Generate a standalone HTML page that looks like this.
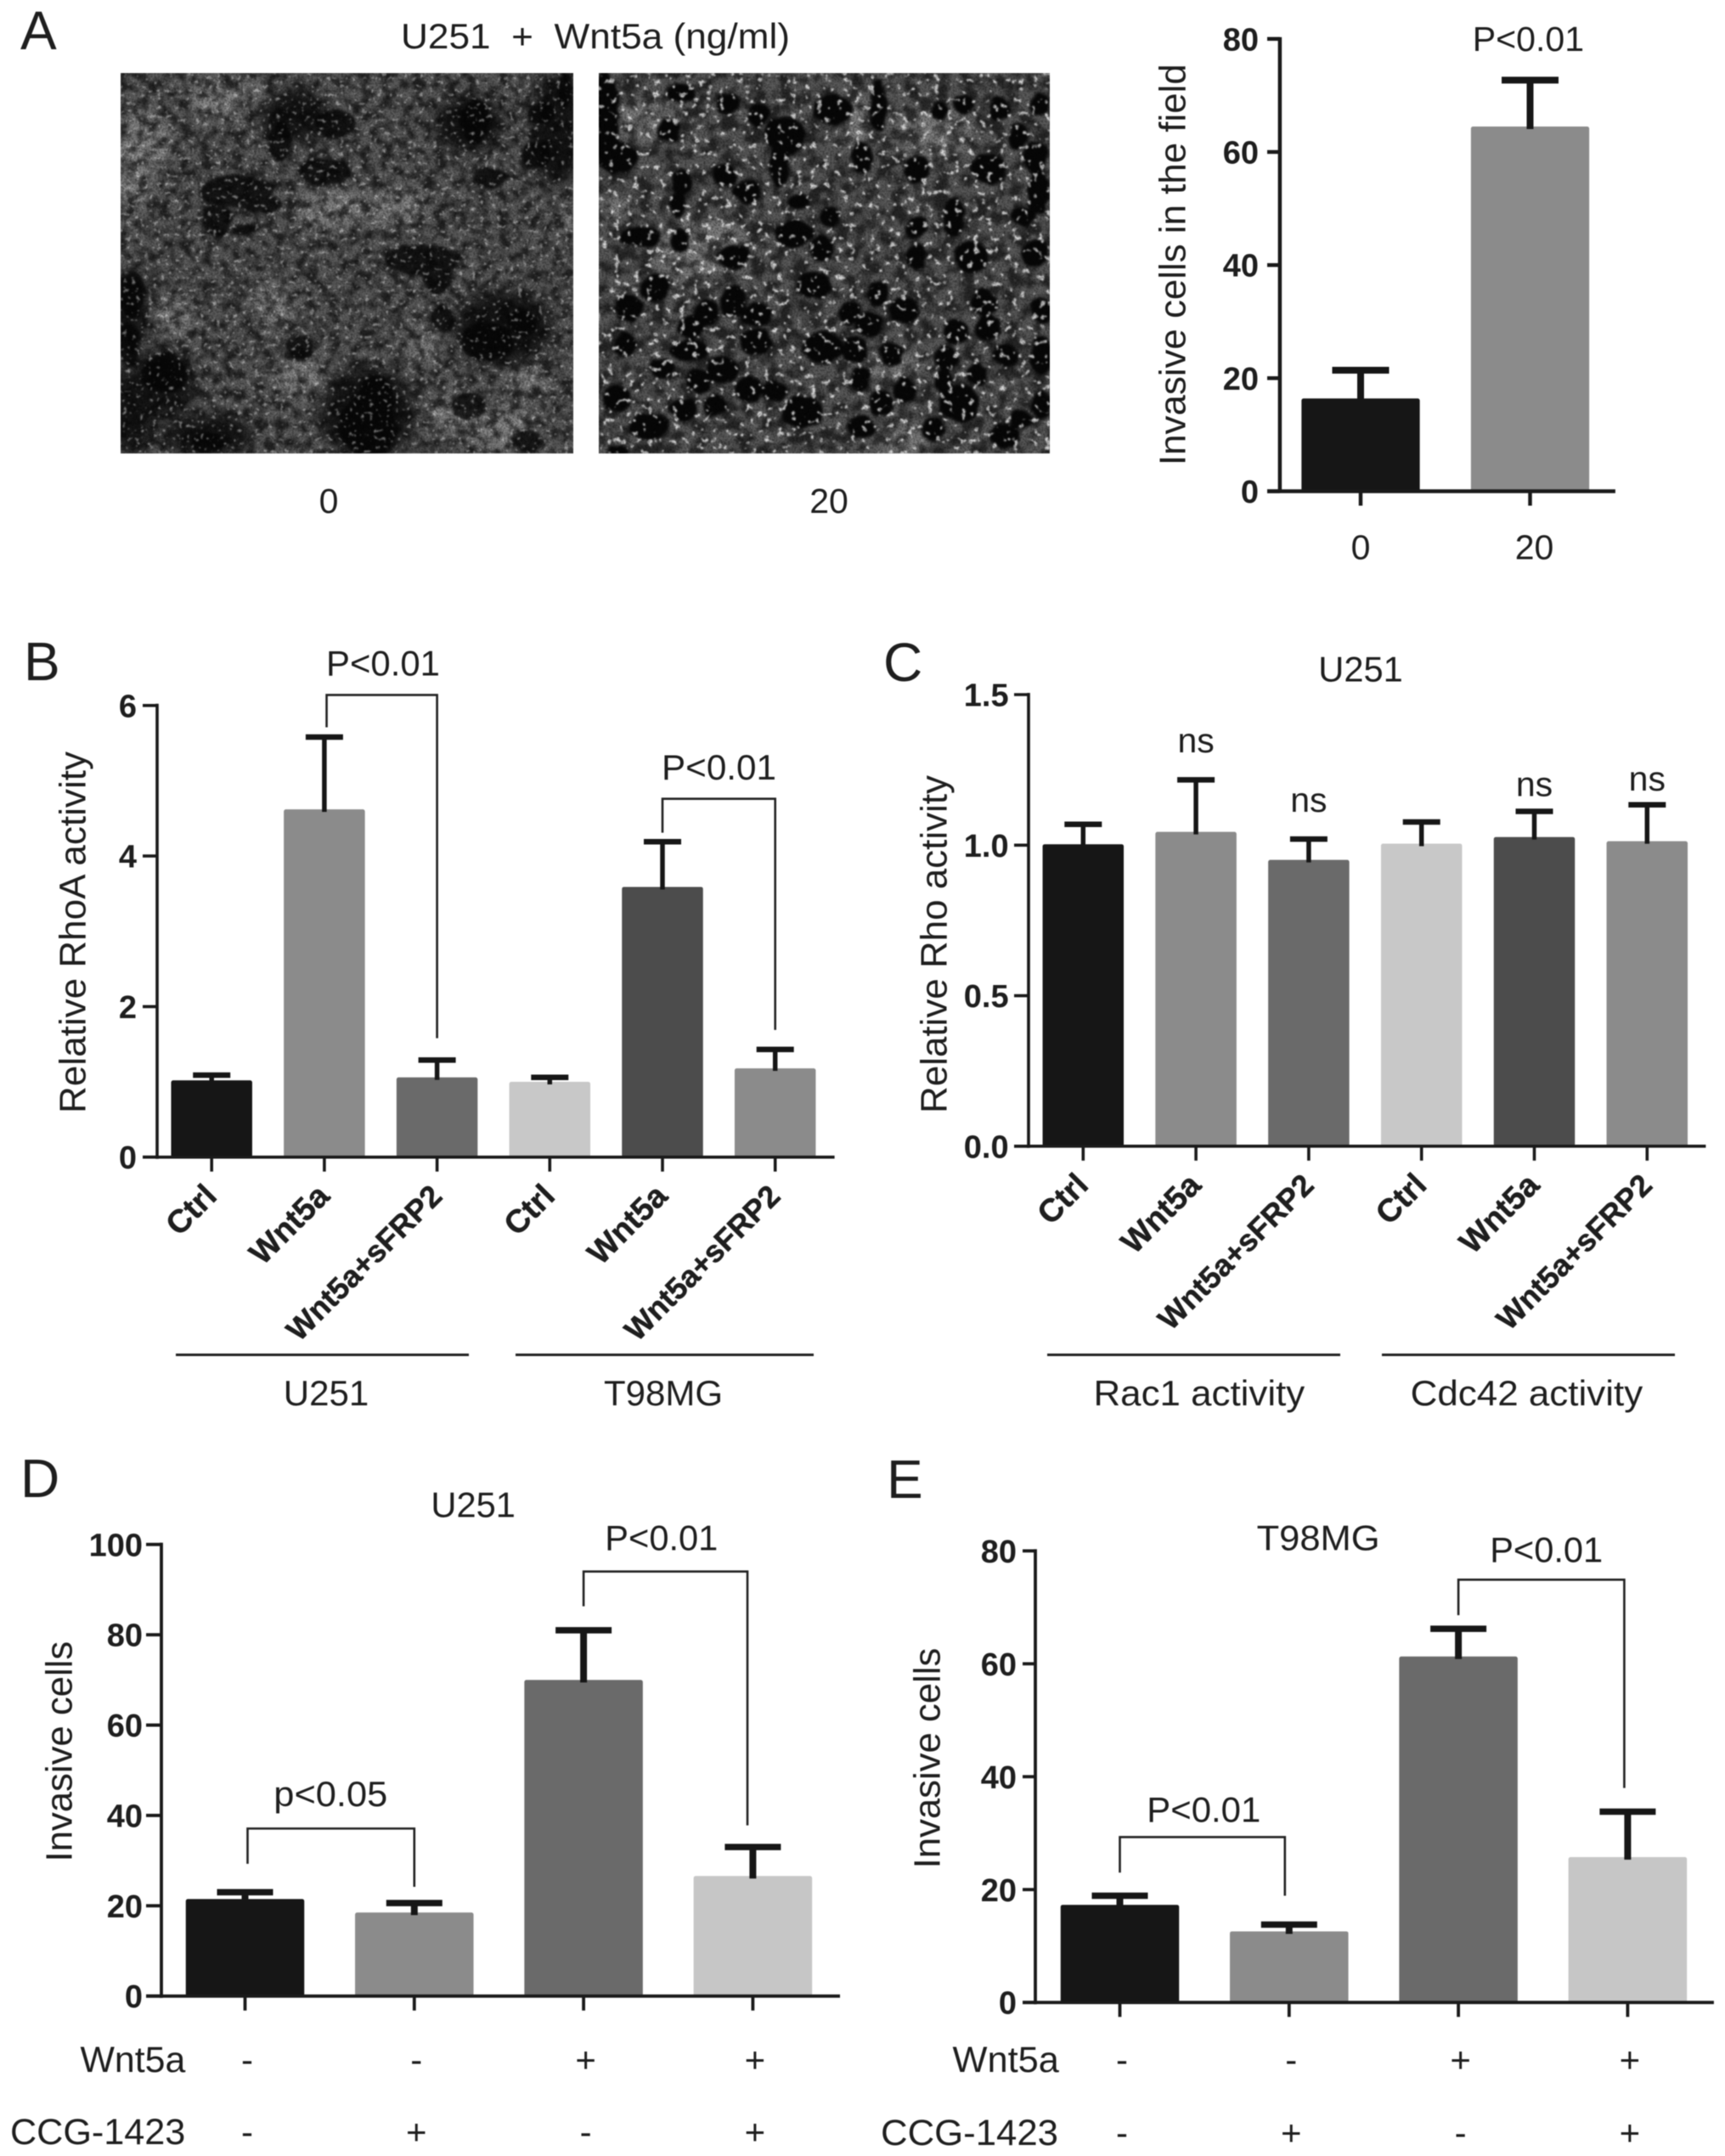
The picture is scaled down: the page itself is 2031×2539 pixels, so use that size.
<!DOCTYPE html>
<html lang="en">
<head>
<meta charset="utf-8">
<title>Wnt5a invasion and Rho activity figure</title>
<style>
html,body{margin:0;padding:0;background:#fff}
svg{display:block;filter:blur(.55px)}
text{font-family:"Liberation Sans",Arial,sans-serif;fill:#1e1e1e}
.tick{font-weight:bold;font-size:38px;text-anchor:end}
.letter{font-size:64px}
.ytitle{font-size:44px}
.cat{font-weight:bold;font-size:36px;text-anchor:end;stroke:#1e1e1e;stroke-width:.5px}
</style>
</head>
<body>
<svg id="fig" xmlns="http://www.w3.org/2000/svg" width="2031" height="2539" viewBox="0 0 2031 2539">
<defs>
<filter id="darkNoiseL" x="0" y="0" width="1" height="1" color-interpolation-filters="sRGB">
  <feTurbulence type="fractalNoise" baseFrequency="0.08 0.085" numOctaves="3" seed="7"/>
  <feColorMatrix values="0 0 0 0 0.03  0 0 0 0 0.03  0 0 0 0 0.03  3.2 0 0 0 -1.25"/>
  <feGaussianBlur stdDeviation="1"/>
</filter>
<filter id="darkNoiseR" x="0" y="0" width="1" height="1" color-interpolation-filters="sRGB">
  <feTurbulence type="fractalNoise" baseFrequency="0.06 0.065" numOctaves="3" seed="19"/>
  <feColorMatrix values="0 0 0 0 0.02  0 0 0 0 0.02  0 0 0 0 0.02  4 0 0 0 -1.6"/>
  <feGaussianBlur stdDeviation="1"/>
</filter>
<filter id="brightSpecks" x="0" y="0" width="1" height="1" color-interpolation-filters="sRGB">
  <feTurbulence type="fractalNoise" baseFrequency="0.2" numOctaves="2" seed="11"/>
  <feColorMatrix values="0 0 0 0 1  0 0 0 0 1  0 0 0 0 1  14 0 0 0 -9"/>
  <feGaussianBlur stdDeviation=".7"/>
</filter>
<filter id="brightSpecksR" x="0" y="0" width="1" height="1" color-interpolation-filters="sRGB">
  <feTurbulence type="fractalNoise" baseFrequency="0.13" numOctaves="2" seed="23"/>
  <feColorMatrix values="0 0 0 0 1  0 0 0 0 1  0 0 0 0 1  12 0 0 0 -7.6"/>
  <feGaussianBlur stdDeviation=".9"/>
</filter>
<filter id="grain" x="0" y="0" width="1" height="1" color-interpolation-filters="sRGB">
  <feTurbulence type="fractalNoise" baseFrequency="0.45" numOctaves="2" seed="3"/>
  <feColorMatrix values="0 0 0 0 0  0 0 0 0 0  0 0 0 0 0  3.4 0 0 0 -1.4"/>
</filter>
<filter id="soft" x="-20%" y="-20%" width="140%" height="140%"><feGaussianBlur stdDeviation="24"/></filter>
<filter id="cellEdge" x="-5%" y="-5%" width="110%" height="110%" color-interpolation-filters="sRGB">
  <feTurbulence type="fractalNoise" baseFrequency="0.02" numOctaves="2" seed="5" result="t"/>
  <feDisplacementMap in="SourceGraphic" in2="t" scale="26" xChannelSelector="R" yChannelSelector="G"/>
  <feGaussianBlur stdDeviation="5"/>
</filter>
<clipPath id="clipL"><rect x="142" y="86" width="533" height="448"/></clipPath>
<clipPath id="clipR"><rect x="705" y="86" width="531" height="448"/></clipPath>
</defs>

<!-- Panel A micrographs -->
<g clip-path="url(#clipL)">
  <rect x="142" y="86" width="533" height="448" fill="#5a5a5a"/>
  <g transform="translate(142,86) scale(.3418,.333)">
    <g filter="url(#soft)" fill="#868686">
      <ellipse cx="80" cy="250" rx="90" ry="110"/><ellipse cx="40" cy="420" rx="60" ry="70"/><ellipse cx="330" cy="100" rx="100" ry="60"/><ellipse cx="450" cy="90" rx="60" ry="50"/><ellipse cx="730" cy="480" rx="120" ry="70"/><ellipse cx="950" cy="480" rx="100" ry="70"/><ellipse cx="1300" cy="1250" rx="120" ry="80"/><ellipse cx="1150" cy="1200" rx="80" ry="60"/><ellipse cx="620" cy="1080" rx="90" ry="60"/><ellipse cx="530" cy="820" rx="70" ry="70"/><ellipse cx="200" cy="860" rx="70" ry="60"/><ellipse cx="1400" cy="1080" rx="70" ry="40"/><ellipse cx="1050" cy="960" rx="60" ry="50"/><ellipse cx="1540" cy="520" rx="25" ry="50"/>
    </g>
    <g filter="url(#soft)" fill="#161616">
      <ellipse cx="40" cy="1200" rx="80" ry="150"/><ellipse cx="1500" cy="200" rx="90" ry="200"/><ellipse cx="1200" cy="180" rx="120" ry="100"/><ellipse cx="1320" cy="900" rx="170" ry="130"/><ellipse cx="850" cy="1200" rx="160" ry="160"/><ellipse cx="150" cy="1100" rx="110" ry="120"/><ellipse cx="30" cy="850" rx="60" ry="150"/><ellipse cx="600" cy="150" rx="120" ry="90"/><ellipse cx="300" cy="1280" rx="160" ry="70"/>
    </g>
  </g>
  <rect x="142" y="86" width="533" height="448" filter="url(#darkNoiseL)" opacity=".7"/>
  <g transform="translate(142,86) scale(.3418,.333)" filter="url(#cellEdge)" fill="#060606" opacity=".8">
    <ellipse cx="400" cy="420" rx="130" ry="60"/><ellipse cx="480" cy="460" rx="70" ry="35"/><ellipse cx="330" cy="520" rx="50" ry="60"/><ellipse cx="430" cy="555" rx="50" ry="20"/><ellipse cx="1040" cy="660" rx="130" ry="55"/><ellipse cx="1090" cy="720" rx="50" ry="60"/><ellipse cx="850" cy="1250" rx="100" ry="110"/><ellipse cx="880" cy="1150" rx="60" ry="80"/><ellipse cx="30" cy="960" rx="35" ry="80"/><ellipse cx="40" cy="780" rx="45" ry="80"/><ellipse cx="150" cy="1060" rx="80" ry="70"/><ellipse cx="1260" cy="950" rx="90" ry="70"/><ellipse cx="1380" cy="880" rx="50" ry="50"/><ellipse cx="1220" cy="170" rx="50" ry="80"/><ellipse cx="1450" cy="140" rx="50" ry="40"/><ellipse cx="1530" cy="60" rx="25" ry="60"/><ellipse cx="740" cy="180" rx="70" ry="50"/><ellipse cx="300" cy="1310" rx="60" ry="35"/><ellipse cx="1200" cy="1180" rx="60" ry="50"/><ellipse cx="1110" cy="870" rx="40" ry="50"/><ellipse cx="700" cy="350" rx="90" ry="50"/><ellipse cx="1430" cy="290" rx="50" ry="50"/><ellipse cx="550" cy="240" rx="40" ry="70"/><ellipse cx="1400" cy="1300" rx="50" ry="40"/><ellipse cx="620" cy="970" rx="45" ry="45"/><ellipse cx="1270" cy="370" rx="60" ry="40"/>
  </g>
  <rect x="142" y="86" width="533" height="448" filter="url(#brightSpecks)" opacity=".45"/>
  <rect x="142" y="86" width="533" height="448" filter="url(#grain)" opacity=".3"/>
</g>

<g clip-path="url(#clipR)">
  <rect x="705" y="86" width="531" height="448" fill="#585858"/>
  <g transform="translate(706,86) scale(.3418,.333)">
    <g filter="url(#soft)" fill="#7e7e7e">
      <ellipse cx="340" cy="620" rx="180" ry="110"/><ellipse cx="150" cy="170" rx="100" ry="70"/><ellipse cx="880" cy="170" rx="70" ry="90"/><ellipse cx="1150" cy="210" rx="130" ry="90"/><ellipse cx="1050" cy="1300" rx="90" ry="50"/><ellipse cx="60" cy="480" rx="60" ry="50"/><ellipse cx="1020" cy="1050" rx="130" ry="50"/>
    </g>
  </g>
  <rect x="705" y="86" width="531" height="448" filter="url(#darkNoiseR)" opacity=".6"/>
  <g transform="translate(706,86) scale(.3418,.333)" filter="url(#cellEdge)" fill="#070707" stroke="#070707" stroke-width="16">
      <ellipse cx="20" cy="150" rx="40" ry="150"/><ellipse cx="60" cy="300" rx="60" ry="50"/><ellipse cx="240" cy="200" rx="35" ry="35"/><ellipse cx="280" cy="70" rx="45" ry="25"/><ellipse cx="440" cy="110" rx="30" ry="30"/><ellipse cx="550" cy="150" rx="30" ry="35"/><ellipse cx="640" cy="220" rx="60" ry="60"/><ellipse cx="620" cy="320" rx="25" ry="80"/><ellipse cx="800" cy="130" rx="60" ry="45"/><ellipse cx="960" cy="110" rx="20" ry="90"/><ellipse cx="905" cy="300" rx="30" ry="50"/><ellipse cx="1090" cy="340" rx="35" ry="40"/><ellipse cx="1170" cy="135" rx="20" ry="25"/><ellipse cx="1250" cy="110" rx="30" ry="30"/><ellipse cx="1375" cy="130" rx="30" ry="35"/><ellipse cx="1515" cy="110" rx="25" ry="35"/><ellipse cx="1500" cy="300" rx="35" ry="50"/><ellipse cx="1440" cy="220" rx="25" ry="40"/><ellipse cx="1340" cy="340" rx="50" ry="50"/><ellipse cx="285" cy="385" rx="30" ry="35"/><ellipse cx="430" cy="360" rx="35" ry="35"/><ellipse cx="510" cy="420" rx="40" ry="35"/><ellipse cx="270" cy="465" rx="20" ry="35"/><ellipse cx="140" cy="580" rx="65" ry="30"/><ellipse cx="275" cy="590" rx="25" ry="30"/><ellipse cx="685" cy="455" rx="30" ry="25"/><ellipse cx="795" cy="510" rx="30" ry="30"/><ellipse cx="670" cy="570" rx="60" ry="40"/><ellipse cx="765" cy="620" rx="30" ry="40"/><ellipse cx="1090" cy="545" rx="30" ry="30"/><ellipse cx="1220" cy="510" rx="30" ry="60"/><ellipse cx="1090" cy="650" rx="30" ry="40"/><ellipse cx="1460" cy="505" rx="35" ry="25"/><ellipse cx="1500" cy="640" rx="40" ry="40"/><ellipse cx="460" cy="650" rx="50" ry="35"/><ellipse cx="190" cy="760" rx="40" ry="45"/><ellipse cx="100" cy="830" rx="40" ry="40"/><ellipse cx="460" cy="810" rx="35" ry="50"/><ellipse cx="370" cy="850" rx="35" ry="40"/><ellipse cx="315" cy="900" rx="35" ry="35"/><ellipse cx="540" cy="855" rx="45" ry="35"/><ellipse cx="740" cy="750" rx="50" ry="40"/><ellipse cx="960" cy="780" rx="30" ry="40"/><ellipse cx="1050" cy="840" rx="45" ry="40"/><ellipse cx="930" cy="890" rx="40" ry="35"/><ellipse cx="860" cy="850" rx="30" ry="35"/><ellipse cx="1325" cy="810" rx="35" ry="40"/><ellipse cx="1520" cy="840" rx="30" ry="40"/><ellipse cx="1225" cy="915" rx="35" ry="40"/><ellipse cx="1340" cy="900" rx="40" ry="40"/><ellipse cx="880" cy="980" rx="40" ry="40"/><ellipse cx="770" cy="970" rx="60" ry="50"/><ellipse cx="1195" cy="1010" rx="35" ry="35"/><ellipse cx="1005" cy="995" rx="30" ry="35"/><ellipse cx="90" cy="960" rx="30" ry="35"/><ellipse cx="310" cy="980" rx="60" ry="30"/><ellipse cx="215" cy="1045" rx="35" ry="30"/><ellipse cx="540" cy="950" rx="50" ry="40"/><ellipse cx="340" cy="1090" rx="35" ry="35"/><ellipse cx="1300" cy="1065" rx="30" ry="35"/><ellipse cx="60" cy="1150" rx="40" ry="40"/><ellipse cx="600" cy="1125" rx="35" ry="30"/><ellipse cx="515" cy="1120" rx="40" ry="40"/><ellipse cx="395" cy="1175" rx="30" ry="30"/><ellipse cx="900" cy="1085" rx="25" ry="40"/><ellipse cx="1185" cy="1090" rx="25" ry="40"/><ellipse cx="1240" cy="1170" rx="60" ry="60"/><ellipse cx="970" cy="1170" rx="35" ry="40"/><ellipse cx="1050" cy="1120" rx="30" ry="40"/><ellipse cx="1395" cy="1285" rx="45" ry="35"/><ellipse cx="1520" cy="1170" rx="25" ry="45"/><ellipse cx="1450" cy="1225" rx="30" ry="25"/><ellipse cx="1150" cy="1260" rx="30" ry="35"/><ellipse cx="900" cy="1250" rx="40" ry="30"/><ellipse cx="290" cy="1190" rx="40" ry="30"/><ellipse cx="60" cy="1340" rx="30" ry="15"/>
      <ellipse cx="1510" cy="420" rx="30" ry="70"/><ellipse cx="1520" cy="1000" rx="30" ry="60"/><ellipse cx="1280" cy="650" rx="50" ry="50"/><ellipse cx="170" cy="1250" rx="60" ry="40"/><ellipse cx="700" cy="1200" rx="60" ry="50"/><ellipse cx="1400" cy="1000" rx="40" ry="30"/><ellipse cx="420" cy="1050" rx="50" ry="40"/>
  </g>
  <rect x="705" y="86" width="531" height="448" filter="url(#brightSpecksR)" opacity=".75"/>
  <rect x="705" y="86" width="531" height="448" filter="url(#grain)" opacity=".3"/>
</g>

<!-- Static text -->
<text class="letter" x="24" y="58">A</text>
<text class="letter" x="28" y="801">B</text>
<text class="letter" x="1040" y="802">C</text>
<text class="letter" x="24" y="1763">D</text>
<text class="letter" x="1044" y="1764">E</text>

<text x="472" y="57" font-size="42" textLength="458" lengthAdjust="spacingAndGlyphs" xml:space="preserve">U251  +  Wnt5a (ng/ml)</text>
<text x="387" y="604" font-size="41" text-anchor="middle">0</text>
<text x="976" y="604" font-size="41" text-anchor="middle">20</text>

<text class="ytitle" transform="translate(1395.5,548) rotate(-90)" textLength="472.7" lengthAdjust="spacingAndGlyphs">Invasive cells in the field</text>
<text class="ytitle" transform="translate(100.5,1311) rotate(-90)" textLength="426" lengthAdjust="spacingAndGlyphs">Relative RhoA activity</text>
<text class="ytitle" transform="translate(1114.5,1311) rotate(-90)" textLength="398" lengthAdjust="spacingAndGlyphs">Relative Rho activity</text>
<text class="ytitle" transform="translate(84.6,2192.5) rotate(-90)" textLength="259.7" lengthAdjust="spacingAndGlyphs">Invasive cells</text>
<text class="ytitle" transform="translate(1106.6,2200.4) rotate(-90)" textLength="259.7" lengthAdjust="spacingAndGlyphs">Invasive cells</text>

<text x="1733.8" y="60" font-size="41" textLength="131.3" lengthAdjust="spacingAndGlyphs">P&lt;0.01</text>
<text x="384" y="795.3" font-size="42" textLength="134" lengthAdjust="spacingAndGlyphs">P&lt;0.01</text>
<text x="779" y="918" font-size="42" textLength="135" lengthAdjust="spacingAndGlyphs">P&lt;0.01</text>
<text x="1552.3" y="802.6" font-size="42" textLength="99.5" lengthAdjust="spacingAndGlyphs">U251</text>
<text x="322.3" y="2127" font-size="42" textLength="134" lengthAdjust="spacingAndGlyphs">p&lt;0.05</text>
<text x="712.3" y="1825.7" font-size="42" textLength="133" lengthAdjust="spacingAndGlyphs">P&lt;0.01</text>
<text x="507.4" y="1786.6" font-size="42" textLength="99.5" lengthAdjust="spacingAndGlyphs">U251</text>
<text x="1350.3" y="2145.4" font-size="42" textLength="134" lengthAdjust="spacingAndGlyphs">P&lt;0.01</text>
<text x="1754.2" y="1839.3" font-size="42" textLength="133" lengthAdjust="spacingAndGlyphs">P&lt;0.01</text>
<text x="1479.6" y="1825.4" font-size="42" textLength="145" lengthAdjust="spacingAndGlyphs">T98MG</text>

<line x1="207" y1="1595.5" x2="552" y2="1595.5" stroke="#222" stroke-width="3"/>
<line x1="607" y1="1595.5" x2="958" y2="1595.5" stroke="#222" stroke-width="3"/>
<line x1="1233" y1="1595.5" x2="1578" y2="1595.5" stroke="#222" stroke-width="3"/>
<line x1="1627" y1="1595.5" x2="1972" y2="1595.5" stroke="#222" stroke-width="3"/>
<text x="384" y="1655" font-size="42" text-anchor="middle">U251</text>
<text x="781" y="1655" font-size="42" text-anchor="middle">T98MG</text>
<text x="1287.5" y="1655" font-size="42" textLength="248.7" lengthAdjust="spacingAndGlyphs">Rac1 activity</text>
<text x="1660.6" y="1655" font-size="42" textLength="273.6" lengthAdjust="spacingAndGlyphs">Cdc42 activity</text>

<text x="94.5" y="2440" font-size="43" textLength="123.8" lengthAdjust="spacingAndGlyphs">Wnt5a</text>
<text x="12" y="2525" font-size="43" textLength="206.3" lengthAdjust="spacingAndGlyphs">CCG-1423</text>
<text x="1121.5" y="2440" font-size="43" textLength="125.4" lengthAdjust="spacingAndGlyphs">Wnt5a</text>
<text x="1037" y="2526" font-size="43" textLength="209" lengthAdjust="spacingAndGlyphs">CCG-1423</text>

<g id="charts"></g>
</svg>

<script>
/* ---------- Panel A ---------- */
const panelACategories = ['0', '20'];
const panelAValues = [16.4, 64.5];
const panelAErrors = [21.4, 72.7];
const panelATicks = [0, 20, 40, 60, 80];
const panelATickLabels = ['0', '20', '40', '60', '80'];

/* ---------- Panel B ---------- */
const panelBCategories = ['Ctrl', 'Wnt5a', 'Wnt5a+sFRP2', 'Ctrl', 'Wnt5a', 'Wnt5a+sFRP2'];
const panelBValues = [1.02, 4.62, 1.06, 1.0, 3.59, 1.18];
const panelBErrors = [1.09, 5.58, 1.29, 1.06, 4.19, 1.43];
const panelBTicks = [0, 2, 4, 6];
const panelBTickLabels = ['0', '2', '4', '6'];
const panelBBracketFrom = [1.02, 4];
const panelBBracketTo = [2, 5];
const panelBBracketTop = [6.14, 4.76];
const panelBBracketLeftEnd = [5.71, 4.31];
const panelBBracketRightEnd = [1.58, 1.69];

/* ---------- Panel C ---------- */
const panelCCategories = ['Ctrl', 'Wnt5a', 'Wnt5a+sFRP2', 'Ctrl', 'Wnt5a', 'Wnt5a+sFRP2'];
const panelCValues = [1.003, 1.044, 0.951, 1.005, 1.027, 1.013];
const panelCErrors = [1.069, 1.217, 1.02, 1.077, 1.112, 1.134];
const panelCTicks = [0, 0.5, 1, 1.5];
const panelCTickLabels = ['0.0', '0.5', '1.0', '1.5'];
const panelCNsIndex = [1, 2, 4, 5];
const panelCNsLevel = [1.308, 1.111, 1.163, 1.181];

/* ---------- Panel D ---------- */
const panelDValues = [21.5, 18.5, 70, 26.6];
const panelDErrors = [23, 20.6, 81, 33];
const panelDTicks = [0, 20, 40, 60, 80, 100];
const panelDTickLabels = ['0', '20', '40', '60', '80', '100'];
const panelDWnt5a = ['-', '-', '+', '+'];
const panelDCcg = ['-', '+', '-', '+'];
const panelDBracketFrom = [0.015, 2];
const panelDBracketTo = [1, 2.968];
const panelDBracketTop = [37.1, 94];
const panelDBracketLeftEnd = [29.3, 86.3];
const panelDBracketRightEnd = [24.2, 37.8];

/* ---------- Panel E ---------- */
const panelEValues = [17.3, 12.6, 61.3, 25.75];
const panelEErrors = [18.9, 13.8, 66.2, 33.8];
const panelETicks = [0, 20, 40, 60, 80];
const panelETickLabels = ['0', '20', '40', '60', '80'];
const panelEWnt5a = ['-', '-', '+', '+'];
const panelECcg = ['-', '+', '-', '+'];
const panelEBracketFrom = [0, 2];
const panelEBracketTo = [0.975, 2.98];
const panelEBracketTop = [29.3, 74.9];
const panelEBracketLeftEnd = [23, 68.6];
const panelEBracketRightEnd = [18.9, 38];

const SVGNS = 'http://www.w3.org/2000/svg';
const root = document.getElementById('charts');

function mk(parent, tag, attrs, content) {
  const node = document.createElementNS(SVGNS, tag);
  for (const key in attrs) node.setAttribute(key, attrs[key]);
  if (content !== undefined) node.textContent = content;
  parent.appendChild(node);
  return node;
}

function makeXScale(g) {
  return function (i) { return g.xFirst + i * g.xStep; };
}
function makeYScale(g) {
  return function (v) { return g.yZero - (v / g.yMax) * (g.yZero - g.yTop); };
}

function drawBars(parent, g, values, errors, colors) {
  const x = makeXScale(g);
  const y = makeYScale(g);
  values.forEach(function (v, i) {
    const bar = mk(parent, 'rect', {
      x: x(i) - g.barWidth / 2, y: y(v), width: g.barWidth,
      height: g.yZero - y(v), rx: 2.5, fill: colors[i]
    });
    
    
  });
  errors.forEach(function (e, i) {
    const stem = mk(parent, 'line', {
      x1: x(i), x2: x(i), y1: y(e), y2: y(values[i]) + 3,
      stroke: '#161616', 'stroke-width': g.stem
    });
    
    
    const cap = mk(parent, 'line', {
      x1: x(i) - g.capWidth / 2, x2: x(i) + g.capWidth / 2, y1: y(e), y2: y(e),
      stroke: '#161616', 'stroke-width': g.capThick
    });
    
    
  });
}

function drawAxes(parent, g, count, ticks, tickLabels) {
  const x = makeXScale(g);
  const y = makeYScale(g);
  const yAxis = mk(parent, 'line', {
    x1: g.axisX, x2: g.axisX, y1: g.yTop - 2, y2: g.yZero + 2,
    stroke: '#1a1a1a', 'stroke-width': g.axisWidth
  });
  
  
  const xAxis = mk(parent, 'line', {
    x1: g.tickLeft, x2: g.axisEnd, y1: g.yZero, y2: g.yZero,
    stroke: '#1a1a1a', 'stroke-width': g.axisWidth
  });
  
  
  ticks.forEach(function (t, i) {
    const mark = mk(parent, 'line', {
      x1: g.tickLeft, x2: g.axisX, y1: y(t), y2: y(t),
      stroke: '#1a1a1a', 'stroke-width': g.axisWidth
    });
    
    
    const label = mk(parent, 'text', { x: g.tickLabelX, y: y(t) + 13.5, class: 'tick' }, tickLabels[i]);
    
    
  });
  for (let i = 0; i < count; i++) {
    const mark = mk(parent, 'line', {
      x1: x(i), x2: x(i), y1: g.yZero, y2: g.yZero + 17,
      stroke: '#1a1a1a', 'stroke-width': g.axisWidth
    });
    
    
  }
}

function drawRotatedLabels(parent, g, categories) {
  const x = makeXScale(g);
  categories.forEach(function (c, i) {
    const ax = x(i) + 8;
    const ay = g.yZero + 48;
    const label = mk(parent, 'text', { x: ax, y: ay, class: 'cat', transform: 'rotate(-45 ' + ax + ' ' + ay + ')' }, c);
    label.style.fontSize = (c.length > 6 ? 36 : 38) + 'px';
    
    
  });
}

function drawBrackets(parent, g, from, to, top, leftEnd, rightEnd) {
  const x = makeXScale(g);
  const y = makeYScale(g);
  from.forEach(function (f, i) {
    const d = 'M' + x(f) + ' ' + y(leftEnd[i]) + 'V' + y(top[i]) + 'H' + x(to[i]) + 'V' + y(rightEnd[i]);
    const bracket = mk(parent, 'path', { d: d, fill: 'none', stroke: '#222', 'stroke-width': 2.6 });
    
    
  });
}

function drawSignRow(parent, g, signs, baseline) {
  const x = makeXScale(g);
  signs.forEach(function (s, i) {
    const label = mk(parent, 'text', { x: x(i) + 2.5, y: baseline, 'font-size': 42, 'text-anchor': 'middle' }, s);
    
    
  });
}

const geomA = { xFirst: 1602, xStep: 199.5, barWidth: 139.3, capWidth: 67, capThick: 8, stem: 8, yZero: 578.5, yTop: 45.8, yMax: 80, axisX: 1506.9, tickLeft: 1492, axisEnd: 1901.9, axisWidth: 4.5, tickLabelX: 1482 };
const geomB = { xFirst: 249.2, xStep: 132.7, barWidth: 95.5, capWidth: 44, capThick: 6.5, stem: 5.5, yZero: 1362.7, yTop: 830.8, yMax: 6, axisX: 185, tickLeft: 168, axisEnd: 982.6, axisWidth: 3.6, tickLabelX: 161 };
const geomC = { xFirst: 1275.3, xStep: 132.8, barWidth: 95.5, capWidth: 44, capThick: 6.5, stem: 5.5, yZero: 1349.8, yTop: 818, yMax: 1.5, axisX: 1211, tickLeft: 1194, axisEnd: 2008.4, axisWidth: 3.6, tickLabelX: 1187.6 };
const geomD = { xFirst: 288.5, xStep: 199.3, barWidth: 139.5, capWidth: 66, capThick: 7.5, stem: 8, yZero: 2350.7, yTop: 1818.8, yMax: 100, axisX: 190, tickLeft: 172, axisEnd: 989, axisWidth: 3.8, tickLabelX: 168 };
const geomE = { xFirst: 1318.5, xStep: 199.3, barWidth: 139.5, capWidth: 66, capThick: 7.5, stem: 8, yZero: 2358.2, yTop: 1826.4, yMax: 80, axisX: 1219, tickLeft: 1204, axisEnd: 2017.9, axisWidth: 3.8, tickLabelX: 1197 };

const colorsTwo = ['#161616', '#8b8b8b'];
const colorsSix = ['#161616', '#8b8b8b', '#6a6a6a', '#c8c8c8', '#4c4c4c', '#8b8b8b'];
const colorsFour = ['#161616', '#8b8b8b', '#6a6a6a', '#c6c6c6'];

/* Panel A */
const chartA = mk(root, 'g', {});


drawBars(chartA, geomA, panelAValues, panelAErrors, colorsTwo);
drawAxes(chartA, geomA, panelACategories.length, panelATicks, panelATickLabels);
panelACategories.forEach(function (c, i) {
  const label = mk(chartA, 'text', { x: makeXScale(geomA)(i) + i * 5, y: 658.6, 'font-size': 41, 'text-anchor': 'middle' }, c);
  
  
});

/* Panel B */
const chartB = mk(root, 'g', {});


drawBars(chartB, geomB, panelBValues, panelBErrors, colorsSix);
drawAxes(chartB, geomB, panelBCategories.length, panelBTicks, panelBTickLabels);
drawRotatedLabels(chartB, geomB, panelBCategories);
drawBrackets(chartB, geomB, panelBBracketFrom, panelBBracketTo, panelBBracketTop, panelBBracketLeftEnd, panelBBracketRightEnd);

/* Panel C */
const chartC = mk(root, 'g', {});


drawBars(chartC, geomC, panelCValues, panelCErrors, colorsSix);
drawAxes(chartC, geomC, panelCCategories.length, panelCTicks, panelCTickLabels);
drawRotatedLabels(chartC, geomC, panelCCategories);
panelCNsIndex.forEach(function (idx, i) {
  const label = mk(chartC, 'text', {
    x: makeXScale(geomC)(idx), y: makeYScale(geomC)(panelCNsLevel[i]),
    'font-size': 41, 'text-anchor': 'middle'
  }, 'ns');
  
  
});

/* Panel D */
const chartD = mk(root, 'g', {});


drawBars(chartD, geomD, panelDValues, panelDErrors, colorsFour);
drawAxes(chartD, geomD, panelDValues.length, panelDTicks, panelDTickLabels);
drawBrackets(chartD, geomD, panelDBracketFrom, panelDBracketTo, panelDBracketTop, panelDBracketLeftEnd, panelDBracketRightEnd);
drawSignRow(chartD, geomD, panelDWnt5a, 2440);
drawSignRow(chartD, geomD, panelDCcg, 2525);

/* Panel E */
const chartE = mk(root, 'g', {});


drawBars(chartE, geomE, panelEValues, panelEErrors, colorsFour);
drawAxes(chartE, geomE, panelEValues.length, panelETicks, panelETickLabels);
drawBrackets(chartE, geomE, panelEBracketFrom, panelEBracketTo, panelEBracketTop, panelEBracketLeftEnd, panelEBracketRightEnd);
drawSignRow(chartE, geomE, panelEWnt5a, 2440);
drawSignRow(chartE, geomE, panelECcg, 2526);
</script>
</body>
</html>
